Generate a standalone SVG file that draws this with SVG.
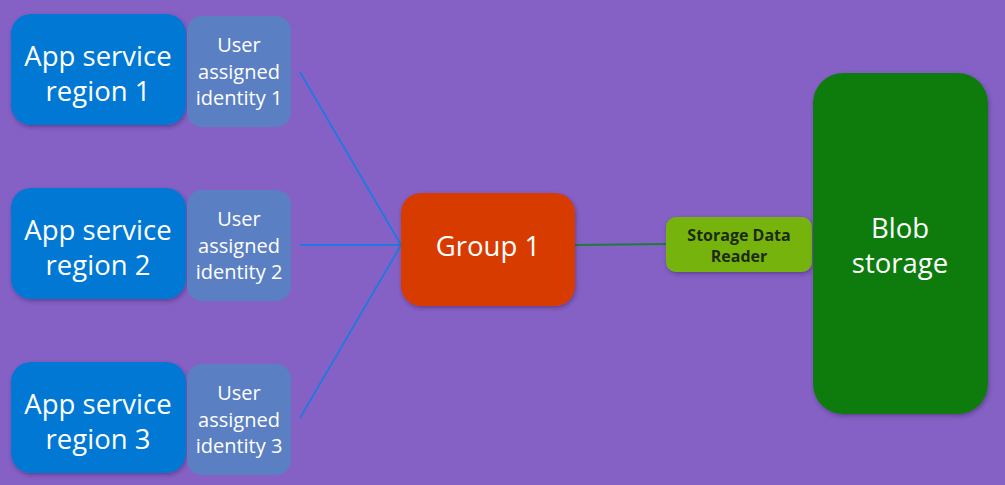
<svg xmlns="http://www.w3.org/2000/svg" width="1005" height="485" viewBox="0 0 1005 485">
<defs>
<filter id="sh" x="-10%" y="-10%" width="130%" height="130%">
<feDropShadow dx="1" dy="2" stdDeviation="2" flood-color="#3a2060" flood-opacity="0.5"/>
</filter>
<style>
.app{fill:#0078D4;filter:url(#sh)}
.uid{fill:#5B7FC3}
.t{font-family:"Open Sans","Noto Sans",sans-serif;fill:#fff;text-anchor:middle}
.big{font-size:27.5px}
.mid{font-size:20px}
.lnk{stroke:#1e7ae0;stroke-width:1.8;fill:none}
.rd{font-family:"Open Sans","Noto Sans",sans-serif;font-size:16px;font-weight:bold;fill:#1c2a10;text-anchor:middle}
</style>
</defs>
<rect width="1005" height="485" fill="#8561C5"/>
<g id="connectors">
<line class="lnk" x1="300" y1="72" x2="401" y2="245"/>
<line class="lnk" x1="300" y1="245" x2="401" y2="245"/>
<line class="lnk" x1="300" y1="418" x2="401" y2="245"/>
<line x1="575" y1="245" x2="667" y2="244" stroke="#1f7a3c" stroke-width="1.8"/>
</g>
<g id="app1">
<rect class="app" x="11" y="14" width="175" height="111" rx="20"/>
<text class="t big" x="98" y="66">App service</text>
<text class="t big" x="98" y="101">region 1</text>
</g>
<g id="uid1">
<rect class="uid" x="187" y="16" width="104" height="111" rx="15"/>
<text class="t mid" x="239" y="52">User</text>
<text class="t mid" x="239" y="79">assigned</text>
<text class="t mid" x="239" y="105">identity 1</text>
</g>
<g id="app2">
<rect class="app" x="11" y="188" width="175" height="111" rx="20"/>
<text class="t big" x="98" y="240">App service</text>
<text class="t big" x="98" y="275">region 2</text>
</g>
<g id="uid2">
<rect class="uid" x="187" y="190" width="104" height="111" rx="15"/>
<text class="t mid" x="239" y="226">User</text>
<text class="t mid" x="239" y="253">assigned</text>
<text class="t mid" x="239" y="279">identity 2</text>
</g>
<g id="app3">
<rect class="app" x="11" y="362" width="175" height="111" rx="20"/>
<text class="t big" x="98" y="414">App service</text>
<text class="t big" x="98" y="449">region 3</text>
</g>
<g id="uid3">
<rect class="uid" x="187" y="364" width="104" height="111" rx="15"/>
<text class="t mid" x="239" y="400">User</text>
<text class="t mid" x="239" y="427">assigned</text>
<text class="t mid" x="239" y="453">identity 3</text>
</g>
<g id="group1">
<rect x="401" y="193" width="174" height="113" rx="20" fill="#D83B01" filter="url(#sh)"/>
<text class="t big" x="488" y="256">Group 1</text>
</g>
<g id="reader">
<rect x="666" y="217" width="146" height="55" rx="10" fill="#76B40B" filter="url(#sh)"/>
<text class="rd" x="739" y="241">Storage Data</text>
<text class="rd" x="739" y="262">Reader</text>
</g>
<g id="blob">
<rect x="813" y="73" width="175" height="341" rx="30" fill="#107C10" filter="url(#sh)"/>
<text class="t big" x="900" y="238">Blob</text>
<text class="t big" x="900" y="273">storage</text>
</g>
</svg>
